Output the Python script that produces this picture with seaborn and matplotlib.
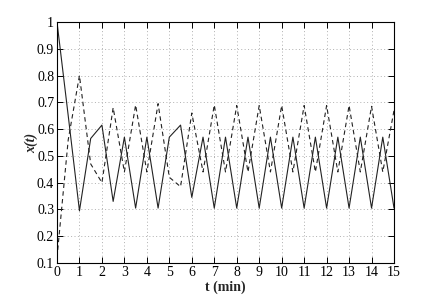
import matplotlib
matplotlib.use('Agg')
import numpy as np
import pandas as pd
import seaborn as sns
import matplotlib.pyplot as plt

# time grid (min) and the two traces
t = np.arange(0, 15.01, 0.5)
x_solid = [1.0, 0.65, 0.295, 0.565, 0.615, 0.33, 0.57, 0.305, 0.57, 0.305,
           0.57, 0.615, 0.345, 0.57, 0.305, 0.57, 0.305, 0.57, 0.305, 0.57,
           0.305, 0.57, 0.305, 0.57, 0.305, 0.57, 0.305, 0.57, 0.305, 0.57,
           0.305]
x_dashed = [0.12, 0.56, 0.80, 0.47, 0.40, 0.68, 0.44, 0.69, 0.44, 0.695,
            0.42, 0.385, 0.66, 0.44, 0.69, 0.44, 0.688, 0.44, 0.688, 0.44,
            0.688, 0.44, 0.688, 0.44, 0.688, 0.44, 0.688, 0.44, 0.685, 0.44,
            0.67]

xticks = list(range(0, 16))
yticks = [0.1, 0.2, 0.3, 0.4, 0.5, 0.6, 0.7, 0.8, 0.9, 1.0]
ytick_labels = ['0.1', '0.2', '0.3', '0.4', '0.5', '0.6', '0.7', '0.8', '0.9', '1']

df = pd.DataFrame({'t': t, 'solid': x_solid, 'dashed': x_dashed})

sns.set_style('ticks')
plt.rcParams['font.family'] = ['Liberation Serif', 'DejaVu Serif']

fig = plt.figure(figsize=(4.36, 2.96), dpi=100)
ax = fig.add_axes([0.1307, 0.1115, 0.773, 0.8142])

sns.lineplot(data=df, x='t', y='solid', ax=ax, color='#222222', linewidth=0.8)
sns.lineplot(data=df, x='t', y='dashed', ax=ax, color='#222222', linewidth=0.8,
             linestyle=(0, (4, 3)))

ax.set_xlim(0, 15)
ax.set_ylim(0.1, 1.0)
ax.set_xticks(xticks)
ax.set_xticklabels([str(v) for v in xticks])
ax.set_yticks(yticks)
ax.set_yticklabels(ytick_labels)
ax.grid(True, color='#b0b0b0', linestyle=(0, (1, 2.5)), linewidth=0.7)
ax.tick_params(direction='in', length=4, width=0.7, top=True, right=True,
               labelsize=10, colors='black', pad=2)
for s in ax.spines.values():
    s.set_linewidth(0.8)
    s.set_color('black')

ax.set_xlabel('t (min)', fontsize=10, fontweight='bold', labelpad=1)
ax.set_ylabel('x(t)', fontsize=10, fontweight='bold', fontstyle='italic', labelpad=-1)

fig.savefig('out.png', dpi=100)
